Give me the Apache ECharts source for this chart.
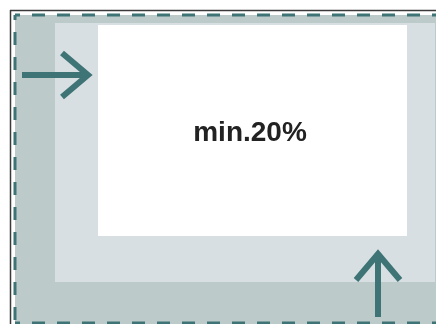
<!DOCTYPE html>
<html>
<head>
<meta charset="utf-8">
<script src="https://cdn.jsdelivr.net/npm/echarts@6/dist/echarts.min.js"></script>
<style>
  html, body { margin: 0; padding: 0; background: #fff; }
  #main { width: 436px; height: 324px; }
</style>
</head>
<body>
<div id="main"></div>
<script>
// 页边距示意图：外框 / 边距区 / 内容区
const zoneNames = ['outer', 'margin', 'content']
const zoneBoxes = [
  [15, 15, 436, 324],
  [55, 23, 435, 282],
  [98, 25, 407, 236],
]
const frameLines = [
  [[10.5, 10], [10.5, 324]],
  [[10, 10.5], [436, 10.5]],
]
const dashLines = [
  [[15, 15], [15, 324]],
  [[15, 15], [436, 15]],
  [[15, 323], [436, 323]],
]
// 箭头: 起点 -> 箭头尖
const arrowLines = [
  [[22, 75], [88, 75]],
  [[378, 317], [378, 254]],
]
const labelText = ['min.20%']
const labelPos = [[250, 133]]

const zoneColors = ['#bdcaca', '#d8dfe2', '#ffffff']
const teal = '#3e7476'

const chart = echarts.init(document.getElementById('main'))

const option = {
  animation: false,
  grid: { left: 0, right: 0, top: 0, bottom: 0 },
  xAxis: { type: 'value', min: 0, max: 436, show: false },
  yAxis: { type: 'value', min: 0, max: 324, inverse: true, show: false },
  series: [
    {
      // 区域
      type: 'custom',
      name: 'zones',
      data: zoneBoxes.map((b, i) => [b[0], b[1], b[2], b[3], i]),
      renderItem: function (params, api) {
        const p0 = api.coord([api.value(0), api.value(1)])
        const p1 = api.coord([api.value(2), api.value(3)])
        return {
          type: 'rect',
          shape: { x: p0[0], y: p0[1], width: p1[0] - p0[0], height: p1[1] - p0[1] },
          style: { fill: zoneColors[api.value(4)] },
        }
      },
    },
    {
      // 外框线
      type: 'custom',
      name: 'frame',
      data: frameLines.map((l) => [l[0][0], l[0][1], l[1][0], l[1][1]]),
      renderItem: function (params, api) {
        const a = api.coord([api.value(0), api.value(1)])
        const b = api.coord([api.value(2), api.value(3)])
        return {
          type: 'line',
          shape: { x1: a[0], y1: a[1], x2: b[0], y2: b[1] },
          style: { stroke: '#3a3a3a', lineWidth: 1.5 },
        }
      },
    },
    {
      // 虚线
      type: 'custom',
      name: 'dash',
      data: dashLines.map((l) => [l[0][0], l[0][1], l[1][0], l[1][1]]),
      renderItem: function (params, api) {
        const a = api.coord([api.value(0), api.value(1)])
        const b = api.coord([api.value(2), api.value(3)])
        return {
          type: 'line',
          shape: { x1: a[0], y1: a[1], x2: b[0], y2: b[1] },
          style: { stroke: teal, lineWidth: 3, lineDash: [13, 12], lineDashOffset: 8 },
        }
      },
    },
    {
      // 箭头
      type: 'custom',
      name: 'arrows',
      data: arrowLines.map((l) => [l[0][0], l[0][1], l[1][0], l[1][1]]),
      renderItem: function (params, api) {
        const a = api.coord([api.value(0), api.value(1)])
        const b = api.coord([api.value(2), api.value(3)])
        const len = Math.hypot(b[0] - a[0], b[1] - a[1])
        const dx = (b[0] - a[0]) / len
        const dy = (b[1] - a[1]) / len
        const back = 26
        const side = 22
        const w1 = [b[0] - dx * back - dy * side, b[1] - dy * back + dx * side]
        const w2 = [b[0] - dx * back + dy * side, b[1] - dy * back - dx * side]
        const st = { stroke: teal, lineWidth: 6, fill: null, lineJoin: 'miter' }
        return {
          type: 'group',
          children: [
            { type: 'line', shape: { x1: a[0], y1: a[1], x2: b[0] - dx * 3, y2: b[1] - dy * 3 }, style: st },
            { type: 'polyline', shape: { points: [w1, b, w2] }, style: st },
          ],
        }
      },
    },
    {
      // 文字
      type: 'custom',
      name: 'label',
      data: labelPos.map((p, i) => [p[0], p[1], i]),
      renderItem: function (params, api) {
        const p = api.coord([api.value(0), api.value(1)])
        return {
          type: 'text',
          x: p[0],
          y: p[1],
          style: {
            text: labelText[api.value(2)],
            fill: '#222',
            font: 'bold 28px "Liberation Sans", Arial, sans-serif',
            align: 'center',
            verticalAlign: 'middle',
          },
        }
      },
    },
  ],
}

chart.setOption(option)
</script>
</body>
</html>
